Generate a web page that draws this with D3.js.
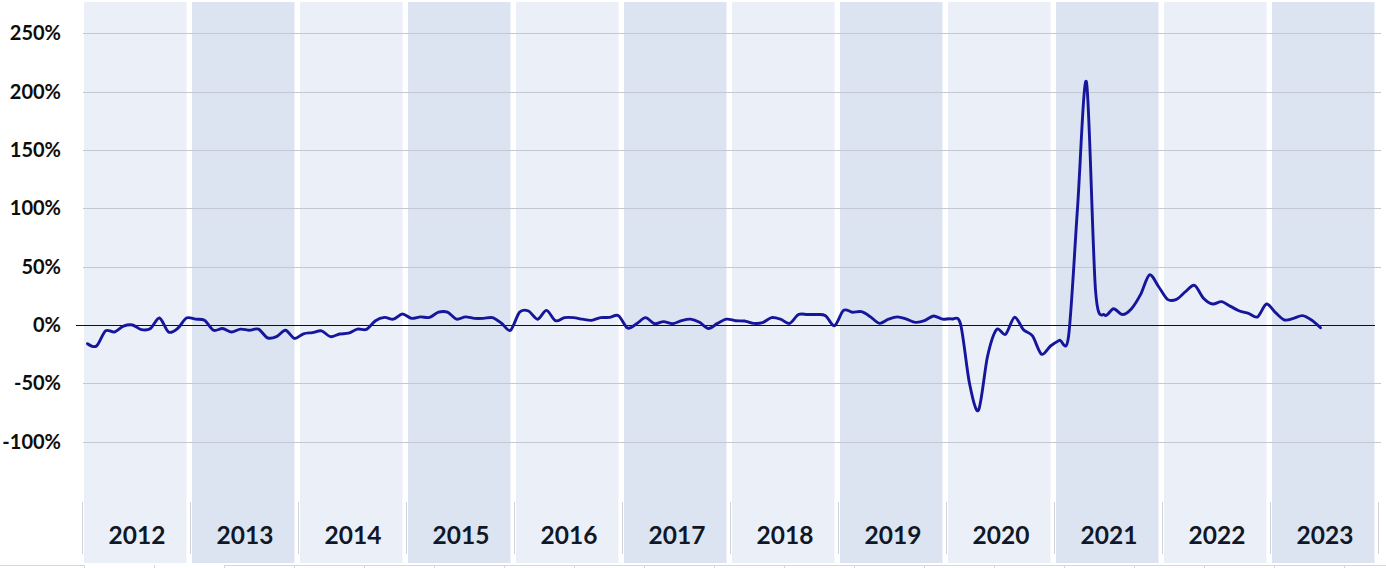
<!DOCTYPE html>
<html>
<head>
<meta charset="utf-8">
<script src="https://cdn.jsdelivr.net/npm/d3@7"></script>
<style>
  html, body { margin: 0; padding: 0; background: #ffffff; }
  svg { display: block; }
</style>
</head>
<body>
<svg id="chart" width="1386" height="568"></svg>
<script>
// ---- Data ----
const years = [2012, 2013, 2014, 2015, 2016, 2017, 2018, 2019, 2020, 2021, 2022, 2023];
const yTicks = [250, 200, 150, 100, 50, 0, -50, -100];
// Monthly year-over-year change (%), Jan 2012 .. Jun 2023
const values2012 = [-16, -18, -5, -6, -1, 0, -4, -3, 6, -6, -3, 6];
const values2013 = [5, 4, -4.5, -3, -6, -3.5, -4.5, -3.5, -11, -10, -4.5, -11.5];
const values2014 = [-7.5, -6.5, -5, -10, -7.7, -7, -3.5, -3.7, 3.7, 6.5, 5, 9.5];
const values2015 = [5.7, 7, 6.5, 11, 11, 5, 7, 5.7, 5.7, 6.3, 1.5, -4.5];
const values2016 = [11, 12, 5, 12.5, 3.7, 6.3, 6.3, 5, 4, 6.3, 6.5, 8];
const values2017 = [-2.6, 1, 6.3, 1.1, 2.9, 1.1, 3.7, 5, 2.3, -3, 1.4, 5];
const values2018 = [3.7, 3.4, 1.4, 2, 6.3, 5, 1.4, 9, 9, 9, 8, -0.6];
const values2019 = [12.5, 11, 11.4, 7, 1.4, 5, 7, 5, 2.3, 3.7, 7.7, 5];
const values2020 = [5.2, 1, -50, -73, -27, -4, -8, 6.6, -4, -9.4, -25, -18];
const values2021 = [-13, -10, 100, 208, 30, 8.6, 14, 9, 14, 26, 43, 33];
const values2022 = [22, 22, 28.6, 34, 23, 18, 20, 16, 12, 10, 7, 18];
const values2023 = [10.6, 4.3, 5.7, 8, 4.3, -2.3];
const series = [].concat(values2012, values2013, values2014, values2015, values2016, values2017,
  values2018, values2019, values2020, values2021, values2022, values2023);

// ---- Layout ----
const svg = d3.select("#chart");
const W = 1386, H = 568;
const x = d3.scaleLinear().domain([0, years.length * 12]).range([83, 1379]);
const y = d3.scaleLinear().domain([-100, 250]).range([441.7, 33.3]);

// Year background bands
svg.append("g").selectAll("rect").data(years).join("rect")
  .attr("x", (d, i) => x(i * 12) + 1)
  .attr("width", (d, i) => x(i * 12 + 12) - x(i * 12) - 5.5)
  .attr("y", 2)
  .attr("height", 561)
  .attr("fill", (d, i) => i % 2 === 0 ? "#EBF0F8" : "#DBE4F0");

// Gridlines
svg.append("g").selectAll("line").data(yTicks.filter(t => t !== 0)).join("line")
  .attr("x1", 83).attr("x2", 1381)
  .attr("y1", d => Math.round(y(d)) + 0.5).attr("y2", d => Math.round(y(d)) + 0.5)
  .attr("stroke", "#C3C8D2").attr("stroke-width", 1);

// Y axis labels
const yAxis = d3.axisLeft(y).tickValues(yTicks).tickFormat(d => d + "%").tickSize(0).tickPadding(0);
const gy = svg.append("g").attr("transform", "translate(61,0)").call(yAxis);
gy.select(".domain").remove();
gy.selectAll("text")
  .attr("font-family", "Lato, 'Open Sans', sans-serif")
  .attr("font-weight", "bold")
  .attr("font-size", 20)
  .attr("fill", "#0D0D0D");

// Category separators in label area
svg.append("g").selectAll("line").data(d3.range(years.length + 1)).join("line")
  .attr("x1", i => Math.round(x(i * 12)) - 0.5).attr("x2", i => Math.round(x(i * 12)) - 0.5)
  .attr("y1", 502).attr("y2", 554)
  .attr("stroke", "#CFD2D8").attr("stroke-width", 1);

// Year labels
svg.append("g").selectAll("text").data(years).join("text")
  .attr("x", (d, i) => x(i * 12 + 6))
  .attr("y", 544)
  .attr("text-anchor", "middle")
  .attr("font-family", "Lato, 'Open Sans', sans-serif")
  .attr("font-weight", "bold")
  .attr("font-size", 24.5)
  .attr("fill", "#111725")
  .text(d => d);

// Bottom sheet grid fragments
const bottom = svg.append("g").attr("stroke", "#D6D6D6").attr("stroke-width", 1);
bottom.append("line").attr("x1", 0).attr("x2", 84).attr("y1", 565.5).attr("y2", 565.5);
bottom.append("line").attr("x1", 225).attr("x2", W).attr("y1", 565.5).attr("y2", 565.5);
bottom.selectAll(".tk").data(d3.range(0, 19)).join("line")
  .attr("x1", k => 84.5 + 70 * k).attr("x2", k => 84.5 + 70 * k)
  .attr("y1", 565).attr("y2", H);

// Zero line
svg.append("line")
  .attr("x1", 76).attr("x2", 1375)
  .attr("y1", Math.round(y(0)) + 0.5).attr("y2", Math.round(y(0)) + 0.5)
  .attr("stroke", "#111111").attr("stroke-width", 1);

// Series line
const line = d3.line()
  .x((d, i) => x(i + 0.5))
  .y(d => y(d))
  .curve(d3.curveCardinal.tension(0.1));
svg.append("path")
  .datum(series)
  .attr("d", line)
  .attr("fill", "none")
  .attr("stroke", "#16169C")
  .attr("stroke-width", 2.9)
  .attr("stroke-linejoin", "round")
  .attr("stroke-linecap", "round");
</script>
</body>
</html>
